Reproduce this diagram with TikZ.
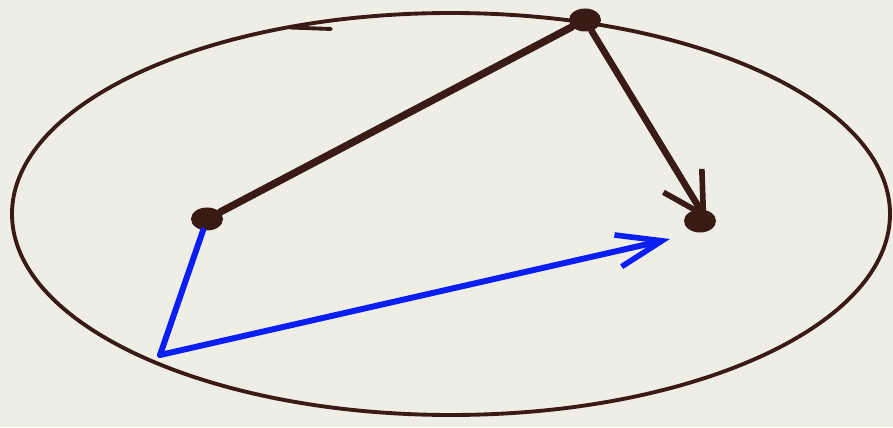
\documentclass[tikz,border=0pt]{standalone}
\usepackage{tikz}
\usetikzlibrary{arrows.meta,positioning,calc,shapes.geometric}
\definecolor{paper}{HTML}{EFEEE5}
\definecolor{ink}{HTML}{3A1A15}
\definecolor{pen}{HTML}{0A1EF5}

\begin{document}
\begin{tikzpicture}[
  every node/.style={anchor=center},
  dot/.style={ellipse, fill=ink, inner sep=0pt, minimum width=0.64cm, minimum height=0.46cm},
  orbit/.style={draw=ink, line width=2.2pt},
  chord/.style={draw=ink, line width=4.2pt, line cap=round},
  pull/.style={draw=ink, line width=3.8pt, line cap=round, shorten >=-7pt,
    -{Straight Barb[length=8mm, width=9mm, line width=3.2pt]}},
  vec/.style={draw=pen, line width=3.4pt, line cap=round},
  vecarrow/.style={vec, -{Straight Barb[length=9mm, width=6.5mm, line width=3.2pt]}}
]
  % --- Hintergrund / Rahmen ---
  \fill[paper] (0,0) rectangle (17.86,8.54);
  \useasboundingbox (0,0) rectangle (17.86,8.54);

  % Ellipse (Bahn)
  \draw[orbit] (9.02,4.26) ellipse [x radius=8.78cm, y radius=4.02cm];
  \draw[orbit, line cap=round] (6.62,7.96) -- (5.80,7.99);

  % Punkte
  \node[dot] (P)  at (11.70,8.14) {};
  \node[dot] (F1) at (4.14,4.16) {};
  \node[dot] (F2) at (14.00,4.12) {};
  \coordinate (O)   at (3.20,1.44);
  \coordinate (tip) at (13.40,3.76);

  % Verbindungen
  \draw[chord] (F1) -- (P);
  \draw[pull]  (P) -- (F2.north);
  \draw[vec]   (O) -- (F1);
  \draw[vecarrow] (O) -- (tip);
\end{tikzpicture}
\end{document}
